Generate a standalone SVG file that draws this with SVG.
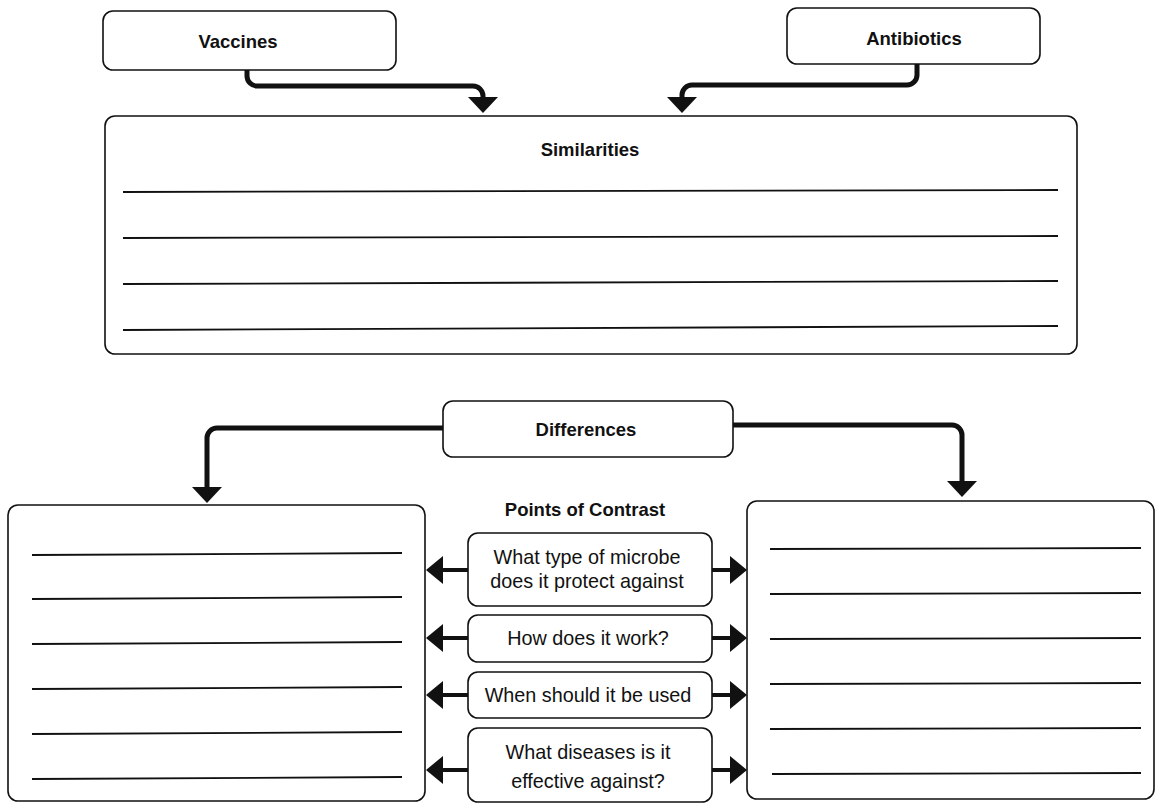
<svg xmlns="http://www.w3.org/2000/svg" width="1159" height="804" viewBox="0 0 1159 804">
<defs>
<style>
.box{fill:#fff;stroke:#111;stroke-width:1.6}
.ln{stroke:#111;stroke-width:1.8}
.title{font-family:"Liberation Sans",Arial,sans-serif;font-weight:bold;font-size:18.5px;fill:#111;text-anchor:middle}
.txt{font-family:"Liberation Sans",Arial,sans-serif;font-size:19.8px;fill:#111;text-anchor:middle}
.con{fill:none;stroke:#111;stroke-width:5}
.arr{fill:none;stroke:#111;stroke-width:4}
</style>
<marker id="ah" viewBox="0 0 16 30" refX="0" refY="15" markerWidth="16" markerHeight="30" markerUnits="userSpaceOnUse" orient="auto">
<path d="M0,0 L16,15 L0,30 Z" fill="#111"/>
</marker>
<marker id="ahs" viewBox="0 0 17 28" refX="0" refY="14" markerWidth="17" markerHeight="28" markerUnits="userSpaceOnUse" orient="auto">
<path d="M0,0 L17,14 L0,28 Z" fill="#111"/>
</marker>
</defs>
<rect width="1159" height="804" fill="#fff"/>

<g id="connectors">
<path class="con" d="M247,70 V76 a10,10 0 0 0 10,10 H473 a10,10 0 0 1 10,10 V97" marker-end="url(#ah)"/>
<path class="con" d="M917,64 V75 a10,10 0 0 1 -10,10 H692 a10,10 0 0 0 -10,10 V97" marker-end="url(#ah)"/>
<path class="con" d="M443,428 H217 a10,10 0 0 0 -10,10 V487" marker-end="url(#ah)"/>
<path class="con" d="M733,425 H952 a10,10 0 0 1 10,10 V481" marker-end="url(#ah)"/>
<path class="arr" d="M468,570 H443" marker-end="url(#ahs)"/>
<path class="arr" d="M712,570 H730" marker-end="url(#ahs)"/>
<path class="arr" d="M468,638 H443" marker-end="url(#ahs)"/>
<path class="arr" d="M712,638 H730" marker-end="url(#ahs)"/>
<path class="arr" d="M468,695 H443" marker-end="url(#ahs)"/>
<path class="arr" d="M712,695 H730" marker-end="url(#ahs)"/>
<path class="arr" d="M468,770 H443" marker-end="url(#ahs)"/>
<path class="arr" d="M712,770 H730" marker-end="url(#ahs)"/>
</g>

<g id="vaccines">
<rect class="box" x="103" y="11" width="293" height="59" rx="10"/>
<text class="title" x="238" y="48">Vaccines</text>
</g>

<g id="antibiotics">
<rect class="box" x="787" y="8" width="253" height="56" rx="10"/>
<text class="title" x="914" y="45">Antibiotics</text>
</g>

<g id="similarities">
<rect class="box" x="105" y="116" width="972" height="238" rx="10"/>
<text class="title" x="590" y="156">Similarities</text>
<line class="ln" x1="123" y1="192" x2="1058" y2="190"/>
<line class="ln" x1="123" y1="238" x2="1058" y2="236"/>
<line class="ln" x1="123" y1="284" x2="1058" y2="281"/>
<line class="ln" x1="123" y1="330" x2="1058" y2="326"/>
</g>

<g id="differences">
<rect class="box" x="443" y="401" width="290" height="56" rx="10"/>
<text class="title" x="586" y="436">Differences</text>
</g>

<g id="points-of-contrast">
<text class="title" x="585" y="516">Points of Contrast</text>
</g>

<g id="contrast-microbe">
<rect class="box" x="468" y="533" width="244" height="73" rx="10"/>
<text class="txt" x="587" y="564">What type of microbe</text>
<text class="txt" x="587" y="588">does it protect against</text>
</g>

<g id="contrast-work">
<rect class="box" x="468" y="615" width="244" height="47" rx="10"/>
<text class="txt" x="588" y="645">How does it work?</text>
</g>

<g id="contrast-when">
<rect class="box" x="468" y="672" width="244" height="46" rx="10"/>
<text class="txt" x="588" y="702">When should it be used</text>
</g>

<g id="contrast-diseases">
<rect class="box" x="468" y="728" width="244" height="74" rx="10"/>
<text class="txt" x="588" y="759">What diseases is it</text>
<text class="txt" x="588" y="788">effective against?</text>
</g>

<g id="left-panel">
<rect class="box" x="8" y="505" width="417" height="296" rx="10"/>
<line class="ln" x1="32" y1="555" x2="402" y2="553"/>
<line class="ln" x1="32" y1="599" x2="402" y2="597"/>
<line class="ln" x1="32" y1="644" x2="402" y2="642"/>
<line class="ln" x1="32" y1="689" x2="402" y2="687"/>
<line class="ln" x1="32" y1="734" x2="402" y2="732"/>
<line class="ln" x1="32" y1="779" x2="402" y2="777"/>
</g>

<g id="right-panel">
<rect class="box" x="747" y="501" width="407" height="298" rx="10"/>
<line class="ln" x1="770" y1="549" x2="1141" y2="548"/>
<line class="ln" x1="770" y1="594" x2="1141" y2="593"/>
<line class="ln" x1="770" y1="639" x2="1141" y2="638"/>
<line class="ln" x1="770" y1="684" x2="1141" y2="683"/>
<line class="ln" x1="770" y1="729" x2="1141" y2="728"/>
<line class="ln" x1="772" y1="774" x2="1141" y2="773"/>
</g>
</svg>
